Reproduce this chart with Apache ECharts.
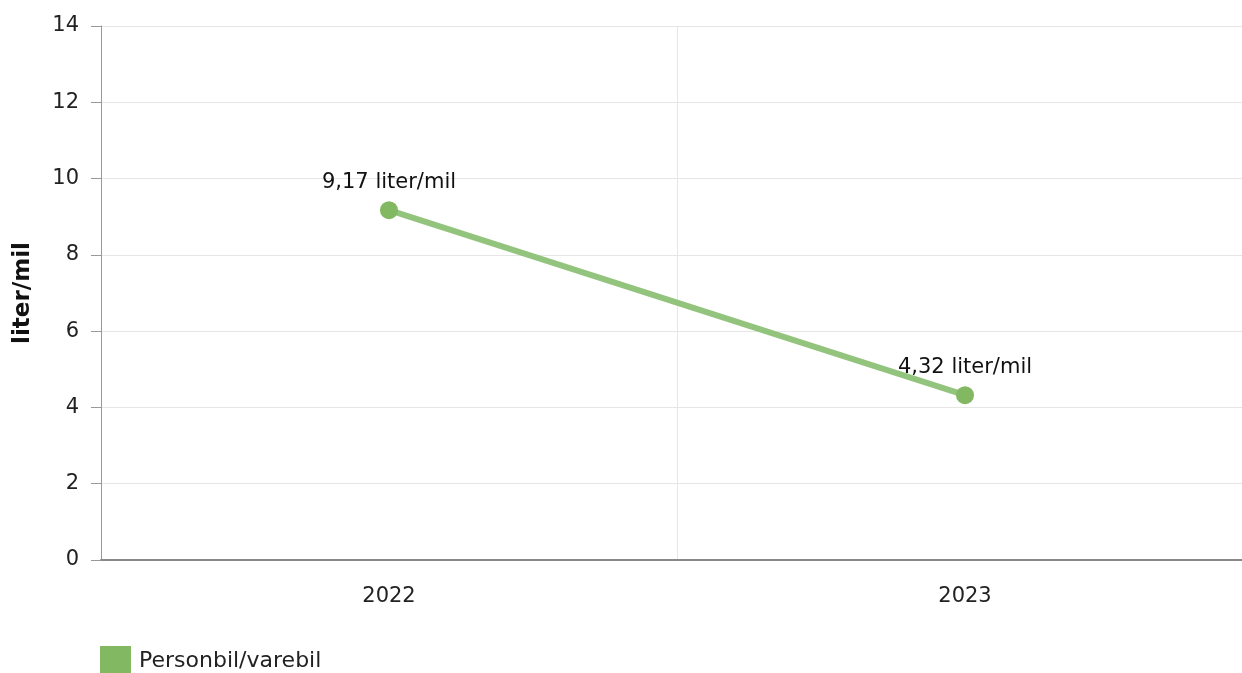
<!DOCTYPE html>
<html>
<head>
<meta charset="utf-8">
<script src="https://cdn.jsdelivr.net/npm/echarts@6/dist/echarts.min.js"></script>
<style>
  html, body { margin: 0; padding: 0; background: #fff; overflow: hidden; }
  /* plot runs a little past the right edge of the window, as in the original */
  #chart { width: 1253px; height: 673px; }
</style>
</head>
<body>
<div id="chart"></div>
<script>
const years = ['2022', '2023'];
const seriesName = 'Personbil/varebil';
const values = [9.17, 4.32];
const yTicks = [0, 2, 4, 6, 8, 10, 12, 14];

const font = 'DejaVu Sans, Verdana, sans-serif';
const chart = echarts.init(document.getElementById('chart'));

chart.setOption({
  animation: false,
  grid: { left: 101, right: 0, top: 26, bottom: 113, containLabel: false },
  legend: {
    left: 95, top: 641,
    icon: 'rect', itemWidth: 31, itemHeight: 31, itemGap: 20,
    textStyle: { fontFamily: font, fontSize: 22, color: '#222', padding: [0, 0, 0, 3] },
    data: [seriesName]
  },
  xAxis: {
    type: 'category',
    data: years,
    boundaryGap: true,
    axisLine: { lineStyle: { color: '#888', width: 2 } },
    axisTick: { alignWithLabel: true, length: 8, lineStyle: { color: '#aaa' } },
    axisLabel: { fontFamily: font, fontSize: 21, color: '#222', margin: 26 },
    splitLine: { show: true, lineStyle: { color: '#e6e6e6', width: 1 } }
  },
  yAxis: {
    type: 'value',
    min: yTicks[0], max: yTicks[yTicks.length - 1], interval: 2,
    name: 'liter/mil',
    nameLocation: 'middle',
    nameGap: 66,
    nameTextStyle: { fontFamily: font, fontWeight: 'bold', fontSize: 23, color: '#111' },
    axisLine: { show: true, lineStyle: { color: '#999', width: 1 } },
    axisTick: { show: true, length: 10, lineStyle: { color: '#999' } },
    axisLabel: { fontFamily: font, fontSize: 21, color: '#222', margin: 22 },
    splitLine: { lineStyle: { color: '#e6e6e6', width: 1 } }
  },
  series: [{
    name: seriesName,
    type: 'line',
    data: values,
    symbol: 'circle',
    symbolSize: 18,
    itemStyle: { color: '#82b862' },
    lineStyle: { color: '#93c47d', width: 6 },
    label: {
      show: true,
      position: 'top',
      distance: 8,
      fontFamily: font,
      fontSize: 21,
      color: '#111',
      formatter: p => p.value.toFixed(2).replace('.', ',') + ' liter/mil'
    }
  }]
});
</script>
</body>
</html>
